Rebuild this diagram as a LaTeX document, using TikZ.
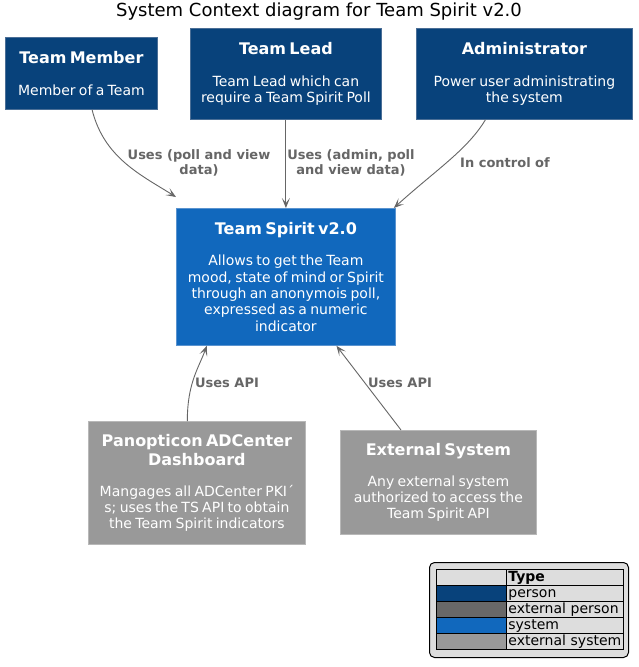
\documentclass[tikz,border=0pt]{standalone}
\usepackage{fontspec}
\setmainfont{DejaVu Sans}
\usetikzlibrary{arrows.meta,calc}
\definecolor{personc}{HTML}{08427B}
\definecolor{personb}{HTML}{4A6E96}
\definecolor{extpersonc}{HTML}{686868}
\definecolor{systemc}{HTML}{1168BD}
\definecolor{systemb}{HTML}{5A93CF}
\definecolor{extsysc}{HTML}{999999}
\definecolor{extsysb}{HTML}{B8B8B8}
\definecolor{edgec}{HTML}{666666}
\definecolor{legbg}{HTML}{DDDDDD}
\newcommand{\ttl}[1]{{\fontsize{16}{19}\selectfont\bfseries #1\par}\vspace{15pt}}
\newcommand{\dsc}[1]{{\fontsize{14}{16.3}\selectfont #1\par}}
\tikzset{
  box/.style={rectangle, line width=0.8pt, text=white, align=center, inner sep=0pt, anchor=north west},
  personbox/.style={box, fill=personc, draw=personb},
  sysbox/.style={box, fill=systemc, draw=systemb},
  extbox/.style={box, fill=extsysc, draw=extsysb},
  rel/.style={draw=edgec, line width=0.9pt, -{Stealth[length=10pt,width=8pt,inset=5pt]}},
  rellabel/.style={text=edgec, font=\fontsize{13}{15}\selectfont\bfseries, align=center, inner sep=0pt},
  cell/.style={rectangle, draw=black, line width=0.8pt, anchor=north west, inner sep=0pt, minimum height=16pt},
  celltxt/.style={cell, fill=legbg, text width=113pt, align=left, font=\fontsize{14}{16}\selectfont, inner xsep=2pt, minimum width=116pt, text height=10.5pt, text depth=3pt}
}
\begin{document}
\begin{tikzpicture}[x=1pt,y=-1pt]
\useasboundingbox[fill=white] (0,0) rectangle (638,667);

\node[font=\fontsize{18}{20}\selectfont, inner sep=0pt] (title) at (319,12) {System Context diagram for Team Spirit v2.0};

% persons
\node[personbox, minimum width=152pt, minimum height=72pt, text width=150pt] (tm) at (5,37)
  {\ttl{Team Member}\dsc{Member of a Team}};
\node[personbox, minimum width=191pt, minimum height=91pt, text width=189pt] (tl) at (190,28)
  {\ttl{Team Lead}\dsc{Team Lead which can\\require a Team Spirit Poll}};
\node[personbox, minimum width=216pt, minimum height=91pt, text width=214pt] (adm) at (416,28)
  {\ttl{Administrator}\dsc{Power user administrating\\the system}};

% system
\node[sysbox, minimum width=219pt, minimum height=137pt, text width=217pt] (ts) at (176,208)
  {\ttl{Team Spirit v2.0}\dsc{Allows to get the Team\\mood, state of mind or Spirit\\through an anonymois poll,\\expressed as a numeric\\indicator}};

% external systems
\node[extbox, minimum width=217pt, minimum height=123pt, text width=215pt] (pan) at (88,421)
  {\ttl{Panopticon ADCenter\\Dashboard}\dsc{Mangages all ADCenter PKI´\\s; uses the TS API to obtain\\the Team Spirit indicators}};
\node[extbox, minimum width=196pt, minimum height=104pt, text width=194pt] (ext) at (340,430)
  {\ttl{External System}\dsc{Any external system\\authorized to access the\\Team Spirit API}};

% relations
\draw[rel] ($(tm.south west)!0.57!(tm.south east)$) .. controls +(12,48) and +(-35,-22) .. ([yshift=11pt]ts.north west);
\draw[rel] (tl.south) -- (ts.north);
\draw[rel] ($(adm.south west)!0.32!(adm.south east)$) .. controls +(-18,30) and +(42,-38) .. ([xshift=-2pt]ts.north east);
\draw[rel] ($(pan.north west)!0.456!(pan.north east)$) .. controls +(0,-38) and +(-8,22) .. ($(ts.south west)!0.14!(ts.south east)$);
\draw[rel] ($(ext.north west)!0.31!(ext.north east)$) -- ($(ts.south west)!0.73!(ts.south east)$);

\node[rellabel] (l1) at (199,163) {Uses (poll and view\\data)};
\node[rellabel] (l2) at (351,163) {Uses (admin, poll\\and view data)};
\node[rellabel] (l3) at (505,163) {In control of};
\node[rellabel] (l4) at (227,383) {Uses API};
\node[rellabel] (l5) at (400,383) {Uses API};

% legend
\node[rectangle, rounded corners=5pt, draw=black, line width=1pt, fill=legbg, anchor=north west, minimum width=199pt, minimum height=95pt, inner sep=0pt] (leg) at (429,562) {};
\node[cell, fill=legbg, minimum width=70pt] (h1) at (436,569) {};
\node[celltxt, font=\fontsize{14}{16}\selectfont\bfseries] (h2) at (506,569) {Type};
\node[cell, fill=personc, minimum width=70pt] (c1) at (436,585) {};
\node[celltxt] (t1) at (506,585) {person};
\node[cell, fill=extpersonc, minimum width=70pt] (c2) at (436,601) {};
\node[celltxt] (t2) at (506,601) {external person};
\node[cell, fill=systemc, minimum width=70pt] (c3) at (436,617) {};
\node[celltxt] (t3) at (506,617) {system};
\node[cell, fill=extsysc, minimum width=70pt] (c4) at (436,633) {};
\node[celltxt] (t4) at (506,633) {external system};
\end{tikzpicture}
\end{document}
